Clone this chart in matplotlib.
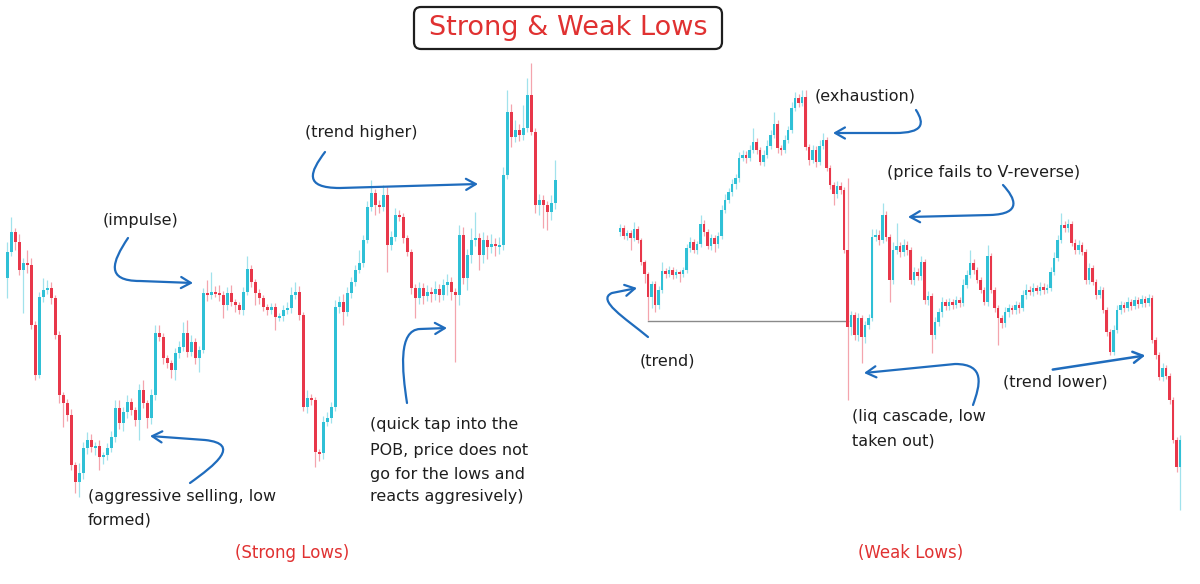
import numpy as np
import matplotlib.pyplot as plt
from matplotlib.path import Path
from matplotlib.patches import FancyArrowPatch, FancyBboxPatch

# levels are read in picture pixels (0 = top of the image), so smaller = higher price
# ---- left chart (Strong Lows) ----
left_x0, left_step = 7, 4
left_open0 = 278
left_close = [252, 232, 242, 270, 263, 265, 325, 375, 297, 290,
              288, 298, 335, 395, 403, 415, 465, 482, 473, 448,
              440, 447, 446, 457, 455, 448, 437, 408, 423, 412,
              402, 410, 420, 390, 403, 418, 395, 333, 337, 358,
              363, 370, 353, 347, 333, 352, 342, 358, 350, 293,
              295, 292, 293, 295, 305, 293, 302, 305, 310, 292,
              269, 282, 293, 298, 307, 310, 307, 317, 316, 310,
              308, 295, 292, 315, 407, 398, 400, 452, 453, 422,
              418, 407, 307, 302, 312, 293, 282, 270, 263, 240,
              207, 193, 205, 207, 195, 245, 237, 215, 217, 238,
              252, 288, 298, 288, 296, 292, 294, 289, 295, 285,
              282, 292, 295, 235, 278, 255, 240, 238, 255, 240,
              247, 244, 246, 245, 175, 112, 137, 130, 135, 128,
              95, 132, 205, 200, 205, 212, 203, 180]
left_upper = [10, 15, 4, 8, 5, 13, 7, 4, 5, 12,
              8, 6, 3, 4, 3, 4, 6, 3, 10, 6,
              8, 6, 4, 6, 3, 5, 6, 8, 8, 5,
              7, 4, 3, 6, 10, 3, 6, 8, 8, 4,
              3, 3, 5, 6, 11, 13, 7, 4, 4, 5,
              13, 20, 6, 8, 4, 6, 8, 3, 3, 5,
              13, 4, 3, 4, 3, 3, 4, 4, 3, 5,
              6, 8, 10, 6, 3, 8, 4, 3, 3, 6,
              6, 5, 7, 6, 8, 6, 5, 5, 13, 5,
              6, 13, 4, 5, 10, 8, 6, 7, 5, 4,
              3, 3, 4, 6, 5, 7, 5, 8, 5, 6,
              8, 5, 4, 10, 8, 6, 12, 26, 5, 8,
              5, 10, 6, 8, 8, 22, 8, 10, 6, 23,
              17, 32, 4, 6, 5, 4, 8, 20]
left_lower = [20, 4, 8, 5, 43, 8, 4, 5, 3, 5,
              4, 6, 4, 8, 24, 6, 5, 11, 15, 6,
              6, 5, 8, 13, 7, 5, 4, 5, 6, 8,
              6, 5, 6, 20, 5, 10, 6, 5, 4, 6,
              5, 8, 10, 5, 4, 5, 4, 6, 14, 3,
              6, 4, 4, 6, 13, 5, 4, 7, 4, 5,
              3, 5, 12, 6, 4, 5, 4, 13, 4, 5,
              4, 5, 4, 5, 4, 6, 5, 15, 8, 6,
              4, 5, 4, 6, 13, 4, 5, 4, 3, 4,
              3, 4, 10, 6, 4, 27, 5, 4, 4, 5,
              4, 6, 20, 6, 8, 5, 8, 6, 7, 5,
              10, 8, 67, 10, 6, 12, 8, 6, 15, 8,
              12, 6, 10, 8, 5, 4, 10, 5, 6, 5,
              4, 3, 8, 10, 23, 18, 8, 6]

# ---- right chart (Weak Lows) ----
right_x0, right_step = 620, 3.5
right_open0 = 232
right_close = [228, 236, 233, 238, 229, 240, 262, 274, 297, 284,
               305, 290, 271, 274, 270, 275, 272, 274, 270, 248,
               242, 250, 244, 224, 232, 246, 238, 244, 236, 210,
               200, 192, 184, 178, 158, 155, 158, 150, 142, 150,
               162, 155, 146, 135, 124, 148, 150, 140, 130, 108,
               98, 103, 97, 147, 160, 150, 162, 146, 140, 168,
               185, 194, 186, 190, 250, 327, 315, 335, 318, 337,
               325, 318, 237, 235, 240, 215, 237, 280, 250, 246,
               252, 245, 250, 280, 272, 276, 262, 300, 296, 335,
               322, 312, 302, 306, 302, 305, 300, 303, 285, 275,
               263, 270, 280, 290, 302, 256, 290, 308, 318, 323,
               312, 308, 310, 305, 308, 295, 290, 292, 288, 291,
               287, 290, 288, 272, 258, 240, 225, 228, 224, 243,
               250, 245, 252, 280, 268, 282, 295, 290, 310, 332,
               352, 330, 310, 305, 308, 302, 306, 300, 304, 299,
               303, 298, 340, 355, 377, 368, 376, 400, 440, 467,
               440]
right_upper = [4, 3, 3, 3, 7, 3, 2, 2, 2, 3,
               3, 4, 9, 3, 4, 3, 3, 2, 3, 4,
               5, 3, 3, 9, 4, 3, 4, 3, 4, 5,
               6, 4, 5, 4, 6, 5, 4, 5, 14, 4,
               3, 5, 6, 5, 12, 4, 3, 5, 4, 6,
               6, 4, 7, 7, 3, 5, 4, 6, 7, 3,
               3, 3, 5, 4, 3, 72, 4, 3, 5, 3,
               4, 4, 8, 6, 5, 12, 4, 3, 8, 23,
               4, 6, 4, 3, 5, 4, 6, 3, 5, 3,
               5, 4, 5, 3, 4, 3, 4, 3, 6, 5,
               13, 4, 3, 3, 3, 11, 3, 3, 3, 3,
               5, 4, 3, 4, 3, 5, 6, 4, 5, 3,
               5, 4, 4, 5, 6, 5, 12, 4, 5, 3,
               4, 5, 3, 3, 5, 3, 3, 4, 3, 3,
               3, 5, 5, 4, 3, 5, 3, 4, 3, 4,
               3, 4, 3, 3, 3, 5, 3, 3, 3, 3,
               5]
right_lower = [4, 3, 4, 12, 3, 3, 3, 9, 23, 11,
               7, 4, 3, 4, 3, 4, 3, 8, 3, 3,
               4, 3, 4, 3, 4, 3, 4, 8, 4, 3,
               3, 3, 4, 5, 4, 3, 5, 3, 3, 4,
               3, 4, 3, 3, 3, 5, 5, 3, 3, 3,
               3, 4, 3, 3, 5, 3, 5, 3, 3, 3,
               4, 11, 4, 4, 3, 73, 8, 5, 6, 26,
               6, 4, 3, 4, 5, 3, 4, 22, 4, 4,
               5, 4, 5, 4, 5, 4, 4, 4, 5, 18,
               4, 4, 5, 4, 4, 4, 3, 4, 3, 3,
               3, 4, 3, 3, 3, 4, 3, 4, 27, 5,
               4, 5, 4, 4, 5, 3, 4, 3, 4, 3,
               4, 4, 3, 3, 3, 3, 3, 4, 4, 3,
               4, 4, 3, 4, 4, 3, 4, 3, 3, 4,
               3, 3, 3, 4, 4, 3, 4, 3, 4, 3,
               4, 3, 3, 4, 3, 4, 3, 4, 3, 5,
               43]

UP = '#2fc0d6'
DOWN = '#e8374a'
ARROW = '#1f6cbd'
RED_TXT = '#e03131'

fig = plt.figure(figsize=(12, 5.84), dpi=100)
ax = fig.add_axes([0, 0, 1, 1])
ax.set_xlim(0, 1200)
ax.set_ylim(584, 0)
ax.axis('off')


def draw_candles(x0, step, open0, closes, upper, lower, width):
    closes = np.array(closes, dtype=float)
    opens = np.concatenate([[open0], closes[:-1]])
    xs = x0 + step * np.arange(len(closes))
    top = np.minimum(opens, closes)
    bot = np.maximum(opens, closes)
    hi = top - np.array(upper)
    lo = bot + np.array(lower)
    colors = [UP if c < o else DOWN for o, c in zip(opens, closes)]
    ax.vlines(xs, hi, lo, colors=colors, linewidth=0.9, alpha=0.45, zorder=2)
    heights = np.maximum(bot - top, 1.6)
    ax.bar(xs, heights, bottom=top, width=width, color=colors,
           edgecolor='none', zorder=3)


draw_candles(left_x0, left_step, left_open0, left_close, left_upper, left_lower, 3.0)
draw_candles(right_x0, right_step, right_open0, right_close, right_upper, right_lower, 2.6)

# the low that gets taken out
ax.plot([648, 848], [320.5, 320.5], color='#8a8a8a', linewidth=1.0, zorder=1)

# title box
ax.add_patch(FancyBboxPatch((414, 7), 308, 42, boxstyle='round,pad=0,rounding_size=7',
                            facecolor='white', edgecolor='#1e1e1e', linewidth=1.6, zorder=4))
ax.text(568, 28, 'Strong & Weak Lows', color=RED_TXT, fontsize=19.5,
        ha='center', va='center', zorder=5)

txt = dict(color='#1e1e1e', fontsize=11.5, ha='left', va='center', zorder=5)


def lines(x, ys, strs):
    for y, s in zip(ys, strs):
        ax.text(x, y, s, **txt)


lines(103, [220], ['(impulse)'])
lines(305, [133], ['(trend higher)'])
lines(88, [496, 520], ['(aggressive selling, low', 'formed)'])
lines(370, [425, 450, 474, 497], ['(quick tap into the', 'POB, price does not',
                                  'go for the lows and', 'reacts aggresively)'])
lines(815, [96], ['(exhaustion)'])
lines(887, [172], ['(price fails to V-reverse)'])
lines(640, [361], ['(trend)'])
lines(852, [417, 441], ['(liq cascade, low', 'taken out)'])
lines(1003, [382], ['(trend lower)'])

ax.text(292, 553, '(Strong Lows)', color=RED_TXT, fontsize=12, ha='center', va='center')
ax.text(911, 553, '(Weak Lows)', color=RED_TXT, fontsize=12, ha='center', va='center')

# hand-drawn style arrows: bezier to a corner, then straight to the tip
C4, L = Path.CURVE4, Path.LINETO
arrows = [
    [(128, 238), (112, 262), (105, 281), (140, 281), (193, 283)],
    [(190, 483), (215, 465), (242, 444), (205, 440), (150, 436)],
    [(325, 152), (310, 172), (303, 188), (340, 188), (478, 184)],
    [(407, 403), (402, 370), (398, 330), (420, 329), (447, 328)],
    [(648, 337), (625, 318), (596, 300), (612, 293), (637, 288)],
    [(916, 110), (925, 124), (923, 133), (895, 133), (833, 133)],
    [(1003, 185), (1015, 198), (1023, 214), (990, 215), (908, 217)],
    [(973, 405), (980, 385), (986, 364), (955, 364), (864, 373)],
]
for pts in arrows:
    p = Path(pts, [Path.MOVETO, C4, C4, C4, L])
    ax.add_patch(FancyArrowPatch(path=p, arrowstyle='->,head_length=7,head_width=4',
                                 color=ARROW, linewidth=1.6, zorder=6))
ax.add_patch(FancyArrowPatch((1050, 370), (1148, 355), arrowstyle='->,head_length=7,head_width=4',
                             color=ARROW, linewidth=1.8, zorder=6))

fig.savefig('out.png', dpi=100, facecolor='white')
